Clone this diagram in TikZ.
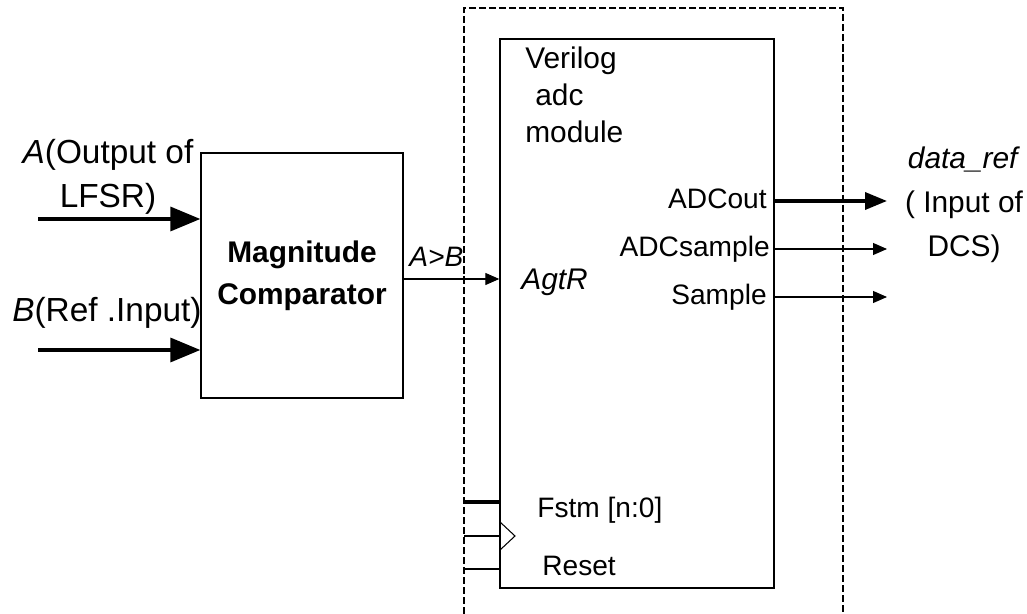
\documentclass[tikz,border=0pt]{standalone}
\usepackage{fontspec}
\setmainfont{Liberation Sans}
\usetikzlibrary{arrows.meta, positioning}

\begin{document}
\begin{tikzpicture}[x=0.02cm, y=-0.02cm,
    every node/.append style={font=\fontsize{17}{24.5}\selectfont, inner sep=0pt},
    box/.style={draw, line width=0.8pt, align=center},
    lbl/.style={font=\fontsize{19}{25}\selectfont, align=center},
    port/.style={font=\fontsize{16}{22}\selectfont},
    bigarr/.style={-{Triangle[length=0.6cm, width=0.48cm]}, line width=2pt},
    outarr/.style={-{Triangle[length=0.44cm, width=0.34cm]}, line width=2pt},
    arr/.style={-{Triangle[length=0.28cm, width=0.24cm]}, line width=0.6pt},
    wire/.style={line width=0.6pt},
    busline/.style={line width=2pt},
    frame/.style={line width=0.7pt, dash pattern=on 4pt off 1.7pt},
]
\useasboundingbox (0,0) rectangle (1027,614);

\node[box, minimum width=4.04cm, minimum height=4.9cm,
      font=\fontsize{17}{24}\selectfont\bfseries] (cmp) at (302,275.5) {Magnitude\\Comparator};
\node[box, minimum width=5.48cm, minimum height=10.98cm] (adc) at (637,313.5) {};

\draw[frame] (464,614) -- (464,8) -- (843,8) -- (843,614);

\node[lbl, anchor=north] (alab) at (108,139) {\textit{A}(Output of\\LFSR)};
\node[lbl, anchor=base west] (blab) at (12,322) {\textit{B}(Ref .Input)};
\coordinate (ain) at (38,219);
\coordinate (bin) at (38,350);
\draw[bigarr] (ain) -- (ain -| cmp.west);
\draw[bigarr] (bin) -- (bin -| cmp.west);

\coordinate (gt) at (450,279);
\draw[arr] (gt -| cmp.east) -- (gt -| adc.west);
\node[anchor=base west, font=\fontsize{16}{20}\selectfont\itshape] (gtlab) at (409,267) {A>B};

\node[anchor=north west, align=left, font=\fontsize{17}{21}\selectfont] (title) at (525,47) {Verilog\\\hspace*{0.2cm}adc\\module};
\node[anchor=base west, font=\fontsize{17}{20}\selectfont\itshape] (agtr) at (521,290) {AgtR};

\node[port, anchor=base east] (pout) at (767,209) {ADCout};
\node[port, anchor=base east] (psmp) at (770,257) {ADCsample};
\node[port, anchor=base east] (pspl) at (767,305) {Sample};
\node[port, anchor=base west] (pfstm) at (537,517) {Fstm [n:0]};
\node[port, anchor=base west] (prst) at (542,575) {Reset};

\coordinate (dout) at (887,201);
\coordinate (sout) at (887,249);
\coordinate (smp) at (887,297);
\draw[outarr] (dout -| adc.east) -- (dout);
\draw[arr] (sout -| adc.east) -- (sout);
\draw[arr] (smp -| adc.east) -- (smp);

\node[lbl, font=\fontsize{17}{25}\selectfont, anchor=north] (dref) at (964,147) {\textit{data\_ref}\\( Input of\\DCS)};

\coordinate (fin) at (464,502);
\coordinate (clk) at (464,536);
\coordinate (rst) at (464,569);
\draw[busline] (fin) -- (fin -| adc.west);
\draw[wire] (clk) -- (clk -| adc.west);
\draw[wire] (rst) -- (rst -| adc.west);
\draw[wire] (500,522) -- (515,536) -- (500,550);

\end{tikzpicture}
\end{document}
